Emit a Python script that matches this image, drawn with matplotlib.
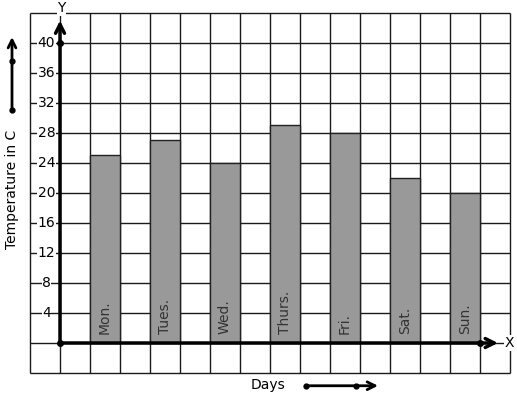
import numpy as np
import matplotlib
matplotlib.use('Agg')
import matplotlib.pyplot as plt

# data
days = ['Mon.', 'Tues.', 'Wed.', 'Thurs.', 'Fri.', 'Sat.', 'Sun.']
temps = [25, 27, 24, 29, 28, 22, 20]
y_ticks = [4, 8, 12, 16, 20, 24, 28, 32, 36, 40]

# one grid cell = 1 unit across, 4 degrees up
fig = plt.figure(figsize=(5.17, 3.99), dpi=100)
ax = fig.add_axes([0, 0, 1, 1])
ax.set_xlim(-2, 15.2333)
ax.set_ylim(-7.4667, 45.7333)
ax.axis('off')

# grid
gx = np.arange(-1, 16, 1)
gy = np.arange(-4, 45, 4)
ax.vlines(gx, gy[0], gy[-1], color='#1a1a1a', lw=1, zorder=1)
ax.hlines(gy, gx[0], gx[-1], color='#1a1a1a', lw=1, zorder=1)

# bars
xpos = np.arange(len(days)) * 2 + 1.5
ax.bar(xpos, temps, width=1, color='#999999', edgecolor='#222222', lw=1, zorder=2)
for x, d in zip(xpos, days):
    ax.text(x, 1.2, d, rotation=90, ha='center', va='bottom',
            fontsize=10, color='#333333', zorder=3)

# axes with arrows
ax.annotate('', xy=(0, 43.0), xytext=(0, 0),
            arrowprops=dict(arrowstyle='->', lw=2.5, color='black',
                            mutation_scale=16, shrinkA=0, shrinkB=0), zorder=4)
ax.annotate('', xy=(14.6, 0), xytext=(0, 0),
            arrowprops=dict(arrowstyle='->', lw=2.5, color='black',
                            mutation_scale=16, shrinkA=0, shrinkB=0), zorder=4)
ax.plot([0, 0, 14], [0, 40, 0], 'o', color='black', ms=4, zorder=5)
ax.text(0.05, 44.6, 'Y', ha='center', va='center', fontsize=10,
        bbox=dict(facecolor='white', edgecolor='none', pad=0.5), zorder=5)
ax.text(14.97, 0, 'X', ha='center', va='center', fontsize=10,
        bbox=dict(facecolor='white', edgecolor='none', pad=0.5), zorder=5)

for t in y_ticks:
    ax.text(-0.45, t, str(t), ha='center', va='center', fontsize=10,
            bbox=dict(facecolor='white', edgecolor='none', pad=0.3), zorder=3)

# axis titles and side arrows
ax.text(-1.6, 20.5, 'Temperature in C', rotation=90, ha='center', va='center',
        fontsize=10)
ax.annotate('', xy=(-1.6, 40.8), xytext=(-1.6, 31.0),
            arrowprops=dict(arrowstyle='->', lw=2, color='black',
                            mutation_scale=14, shrinkA=0, shrinkB=0))
ax.plot([-1.6, -1.6], [31.0, 37.6], 'o', color='black', ms=3.5)

ax.text(6.93, -5.6, 'Days', ha='center', va='center', fontsize=10)
ax.annotate('', xy=(10.6, -5.7), xytext=(8.2, -5.7),
            arrowprops=dict(arrowstyle='->', lw=2, color='black',
                            mutation_scale=14, shrinkA=0, shrinkB=0))
ax.plot([8.2, 9.87], [-5.7, -5.7], 'o', color='black', ms=3.5)

fig.savefig('out.png', dpi=100)
